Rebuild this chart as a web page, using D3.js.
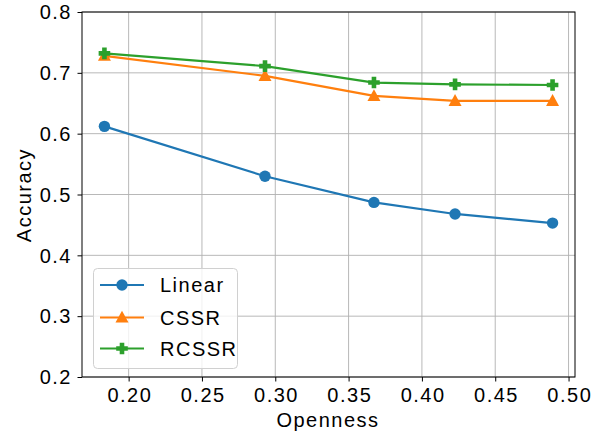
<!DOCTYPE html>
<html><head><meta charset="utf-8">
<script src="https://cdn.jsdelivr.net/npm/d3@7"></script>
<style>
body{margin:0;background:#fff;}
svg text{font-family:"Liberation Sans",Arial,sans-serif;}
</style></head>
<body>
<svg id="c" width="608" height="438"></svg>
<script>
const openness = [0.1835, 0.293, 0.3673, 0.4226, 0.4891];
const linearAcc = [0.612, 0.530, 0.487, 0.468, 0.453];
const cssrAcc   = [0.728, 0.695, 0.662, 0.654, 0.654];
const rcssrAcc  = [0.732, 0.711, 0.684, 0.681, 0.680];
const seriesNames = ["Linear", "CSSR", "RCSSR"];
const xTicks = [0.20, 0.25, 0.30, 0.35, 0.40, 0.45, 0.50];
const yTicks = [0.2, 0.3, 0.4, 0.5, 0.6, 0.7, 0.8];

const colors = ["#1f77b4", "#ff7f0e", "#2ca02c"];
const markers = ["circle", "triangle", "plus"];
const series = [linearAcc, cssrAcc, rcssrAcc];

const L = 82, R = 575, T = 12, B = 377;
const svg = d3.select("#c");
const x = d3.scaleLinear().domain([0.1682, 0.5044]).range([L, R]);
const y = d3.scaleLinear().domain([0.2, 0.8]).range([B, T]);
const FS = 20, LSv = 1.5, LS = LSv + "px";

// grid
const g = svg.append("g");
g.selectAll(".gx").data(xTicks).enter().append("line")
  .attr("x1", d => x(d)).attr("x2", d => x(d)).attr("y1", T).attr("y2", B)
  .attr("stroke", "#b0b0b0").attr("stroke-width", 0.9);
g.selectAll(".gy").data(yTicks).enter().append("line")
  .attr("y1", d => y(d)).attr("y2", d => y(d)).attr("x1", L).attr("x2", R)
  .attr("stroke", "#b0b0b0").attr("stroke-width", 0.9);

// axes
const xAxis = svg.append("g").attr("transform", `translate(0,${B})`)
  .call(d3.axisBottom(x).tickValues(xTicks).tickFormat(d3.format(".2f")).tickSize(4.5).tickPadding(6));
const yAxis = svg.append("g").attr("transform", `translate(${L},0)`)
  .call(d3.axisLeft(y).tickValues(yTicks).tickFormat(d3.format(".1f")).tickSize(4.5).tickPadding(6));
[xAxis, yAxis].forEach(a => {
  a.select(".domain").remove();
  a.selectAll("line").attr("stroke", "#000").attr("stroke-width", 1);
  a.selectAll("text").attr("font-size", FS).attr("fill", "#000")
    .style("letter-spacing", LS)
    .attr("font-family", "'Liberation Sans', Arial, sans-serif");
});
xAxis.selectAll("text").attr("dx", (LSv / 2) + "px");
yAxis.selectAll("text").attr("dx", (LSv - 1) + "px").attr("dy", "0.34em");

function markerPath(type, cx, cy) {
  if (type === "triangle") {
    const s = 6.5;
    return `M${cx},${cy - s * 1.05}L${cx + s},${cy + s * 0.78}L${cx - s},${cy + s * 0.78}Z`;
  }
  const a = 5.8, b = 2.3;
  return `M${cx - b},${cy - a}H${cx + b}V${cy - b}H${cx + a}V${cy + b}H${cx + b}V${cy + a}H${cx - b}V${cy + b}H${cx - a}V${cy - b}H${cx - b}Z`;
}
function drawMarker(sel, type, cx, cy, color) {
  if (type === "circle") sel.append("circle").attr("cx", cx).attr("cy", cy).attr("r", 5.7).attr("fill", color);
  else sel.append("path").attr("d", markerPath(type, cx, cy)).attr("fill", color);
}

const line = d3.line().x((d, i) => x(openness[i])).y(d => y(d));
series.forEach((s, k) => {
  const gg = svg.append("g");
  gg.append("path").datum(s).attr("d", line).attr("fill", "none")
    .attr("stroke", colors[k]).attr("stroke-width", 2.2).attr("stroke-linejoin", "round");
  s.forEach((v, i) => drawMarker(gg, markers[k], x(openness[i]), y(v), colors[k]));
});

// spines
svg.append("rect").attr("x", L).attr("y", T).attr("width", R - L).attr("height", B - T)
  .attr("fill", "none").attr("stroke", "#000").attr("stroke-width", 1);

// legend
const lg = svg.append("g");
lg.append("rect").attr("x", 93.5).attr("y", 268.5).attr("width", 144).attr("height", 100)
  .attr("rx", 4).attr("fill", "#fff").attr("fill-opacity", 0.8).attr("stroke", "#d0d0d0").attr("stroke-width", 1);
const ly = [285, 317.5, 348.5];
seriesNames.forEach((n, k) => {
  lg.append("line").attr("x1", 100).attr("x2", 144).attr("y1", ly[k]).attr("y2", ly[k])
    .attr("stroke", colors[k]).attr("stroke-width", 2.2);
  drawMarker(lg, markers[k], 122, ly[k], colors[k]);
  lg.append("text").attr("x", 160).attr("y", ly[k] + 7).attr("font-size", FS)
    .style("letter-spacing", LS).text(n);
});

// labels
svg.append("text").attr("x", 328).attr("y", 427).attr("text-anchor", "middle")
  .attr("font-size", FS).style("letter-spacing", LS).text("Openness");
svg.append("text").attr("transform", "translate(31,195) rotate(-90)").attr("text-anchor", "middle")
  .attr("font-size", FS).style("letter-spacing", LS).text("Accuracy");
</script>
</body></html>
